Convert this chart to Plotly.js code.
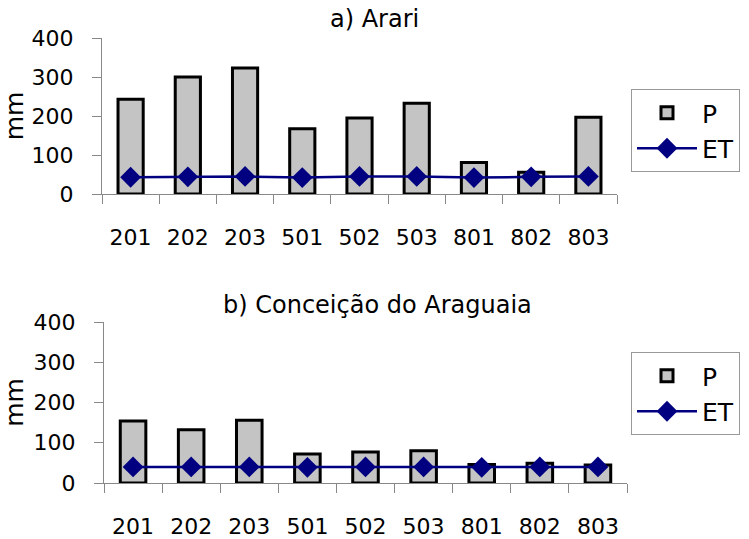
<!DOCTYPE html>
<html>
<head>
<meta charset="utf-8">
<script src="https://cdn.plot.ly/plotly-3.0.1.min.js"></script>
<style>html,body{margin:0;padding:0;background:#fff}#chart{width:749px;height:539px}</style>
</head>
<body>
<div id="chart"></div>
<script>
const categories = ['201','202','203','501','502','503','801','802','803'];
const pArari = [243, 300, 323, 167, 195, 233, 81, 56, 197];
const etArari = [43, 44, 45, 42, 45, 45, 42, 44, 45];
const pConceicao = [154, 132, 156, 72, 77, 80, 46, 49, 45];
const etConceicao = [40, 40, 40, 39, 40, 40, 39, 40, 40];
const yTicks = [0, 100, 200, 300, 400];
const titleA = 'a) Arari';
const titleB = 'b) Conceição do Araguaia';
const yLabel = 'mm';

const FONT = 'DejaVu Sans, Arial, sans-serif';
const barStyle = {
  color: '#c4c4c4',
  line: {color: '#000', width: 3}
};
const lineStyle = {color: '#000080', width: 2.5};
const markerStyle = {symbol: 'diamond', size: 16, color: '#000080'};

const traces = [
  {type: 'bar', x: categories, y: pArari, name: 'P', xaxis: 'x', yaxis: 'y', marker: barStyle, legend: 'legend'},
  {type: 'scatter', mode: 'lines+markers', x: categories, y: etArari, name: 'ET', xaxis: 'x', yaxis: 'y', line: lineStyle, marker: markerStyle, legend: 'legend'},
  {type: 'bar', x: categories, y: pConceicao, name: 'P', xaxis: 'x2', yaxis: 'y2', marker: barStyle, legend: 'legend2'},
  {type: 'scatter', mode: 'lines+markers', x: categories, y: etConceicao, name: 'ET', xaxis: 'x2', yaxis: 'y2', line: lineStyle, marker: markerStyle, legend: 'legend2'}
];

function xAxis(domain, anchor) {
  return {
    domain: domain, anchor: anchor, type: 'category',
    range: [-0.5, categories.length - 0.5],
    showline: true, linecolor: '#888', linewidth: 1,
    ticks: 'outside', ticklen: 9, tickcolor: '#888', tickson: 'boundaries',
    showgrid: false, zeroline: false,
    tickfont: {family: FONT, size: 22, color: '#000'},
    ticklabelstandoff: 24, fixedrange: true
  };
}
function yAxis(domain, anchor) {
  return {
    domain: domain, anchor: anchor, range: [0, 400],
    tickvals: yTicks, ticktext: yTicks.map(String),
    showline: true, linecolor: '#888', linewidth: 1,
    ticks: 'outside', ticklen: 9, tickcolor: '#888',
    showgrid: false, zeroline: false,
    tickfont: {family: FONT, size: 22, color: '#000'},
    ticklabelstandoff: 14,
    title: {text: yLabel, font: {family: FONT, size: 25, color: '#000'}, standoff: 4},
    fixedrange: true
  };
}
function yInner(over, anchor) {
  return {
    overlaying: over, anchor: anchor, side: 'left', range: [0, 400],
    tickvals: yTicks, showticklabels: false,
    showline: false, ticks: 'inside', ticklen: 8, tickcolor: '#888',
    showgrid: false, zeroline: false, fixedrange: true
  };
}
function legendBox(ytop) {
  return {
    x: 631/749, xanchor: 'left', y: ytop, yanchor: 'top',
    bordercolor: '#999', borderwidth: 1, bgcolor: '#fff',
    font: {family: FONT, size: 25, color: '#000'},
    itemwidth: 60, tracegroupgap: 4, traceorder: 'normal'
  };
}

const layout = {
  width: 749, height: 539,
  margin: {l: 0, r: 0, t: 0, b: 0, autoexpand: false},
  paper_bgcolor: '#fff', plot_bgcolor: 'rgba(0,0,0,0)',
  bargap: 0.56,
  showlegend: true,
  xaxis: xAxis([102/749, 617/749], 'y'),
  yaxis: yAxis([1 - 194/539, 1 - 38/539], 'x'),
  xaxis2: xAxis([104/749, 627/749], 'y2'),
  yaxis2: yAxis([1 - 483/539, 1 - 322/539], 'x2'),
  yaxis3: yInner('y', 'x'),
  yaxis4: yInner('y2', 'x2'),
  legend: legendBox(1 - 89/539),
  legend2: legendBox(1 - 352/539),
  annotations: [
    {text: titleA, xref: 'paper', yref: 'paper', x: 374/749, y: 1 - 19/539, xanchor: 'center', yanchor: 'middle', showarrow: false, font: {family: FONT, size: 24, color: '#000'}},
    {text: titleB, xref: 'paper', yref: 'paper', x: 378/749, y: 1 - 305/539, xanchor: 'center', yanchor: 'middle', showarrow: false, font: {family: FONT, size: 24, color: '#000'}}
  ]
};

Plotly.newPlot('chart', traces, layout, {displayModeBar: false, staticPlot: true});
</script>
</body>
</html>
